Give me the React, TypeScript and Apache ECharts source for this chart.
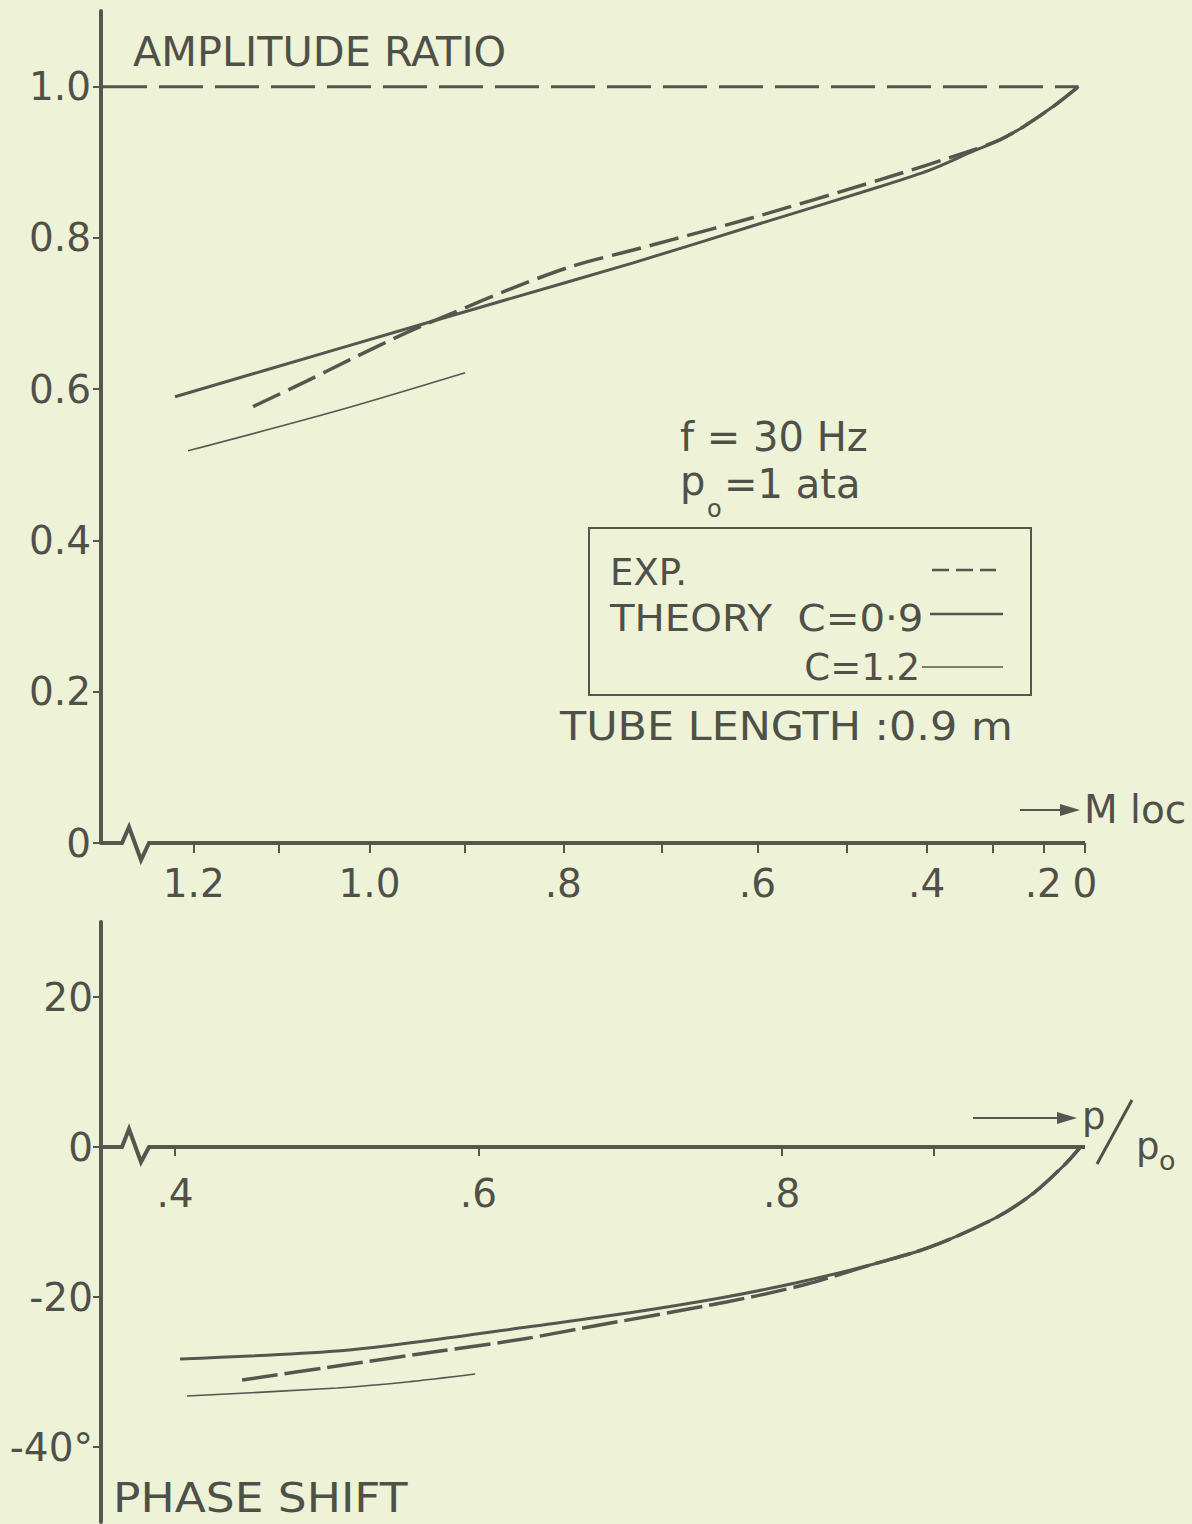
import React, { useEffect, useRef } from "react";
import * as echarts from "echarts";

const BG = "#eef2d7";
const INK = "#4f5149";
const LINE = "#55574f";
const FONT = "'DejaVu Sans', 'Noto Sans', sans-serif";

// ---- top panel: amplitude ratio, plotted on the p/p0 scale (axis labelled in M loc)
const ampRefX = [0.3525, 0.9957];
const ampRefY = [1.0, 1.0];
const ampExpX = [0.4515, 0.4871, 0.5154, 0.553, 0.5834, 0.623, 0.6625, 0.7021, 0.7285, 0.7813, 0.865, 0.9244, 0.9442, 0.9594, 0.9792, 0.9957];
const ampExpY = [0.577, 0.611, 0.639, 0.675, 0.701, 0.734, 0.763, 0.784, 0.798, 0.827, 0.877, 0.915, 0.93, 0.947, 0.974, 1.0];
const ampC09X = [0.4, 0.5069, 0.6144, 0.7021, 0.7859, 0.865, 0.898, 0.9244, 0.9442, 0.9594, 0.9792, 0.9957];
const ampC09Y = [0.59, 0.653, 0.716, 0.767, 0.819, 0.868, 0.89, 0.913, 0.93, 0.947, 0.974, 1.0];
const ampC12X = [0.4086, 0.5069, 0.5913];
const ampC12Y = [0.5185, 0.5714, 0.6217];

// ---- bottom panel: phase shift (degrees) vs p/p0
const phExpX = [0.4442, 0.5069, 0.5748, 0.6296, 0.6691, 0.7635, 0.8143, 0.8584, 0.898, 0.9409, 0.9653, 0.9864, 0.997];
const phExpY = [-31.07, -29.2, -27.2, -25.6, -24.13, -20.67, -18.4, -15.73, -13.33, -9.47, -6.27, -2.4, 0];
const phC09X = [0.4033, 0.5069, 0.5748, 0.6322, 0.6988, 0.7595, 0.809, 0.8584, 0.898, 0.9409, 0.9653, 0.9864, 0.997];
const phC09Y = [-28.27, -27.2, -25.6, -24.0, -22.13, -20.13, -18.13, -15.73, -13.33, -9.47, -6.27, -2.4, 0];
const phC12X = [0.4079, 0.5069, 0.553, 0.5979];
const phC12Y = [-33.2, -32.13, -31.33, -30.27];

// ---- ticks
const ampTicks = [0, 0.2, 0.4, 0.6, 0.8, 1.0];
const ampTickLabels = ["0", "0.2", "0.4", "0.6", "0.8", "1.0"];
const machTicks = [1.2, 1.1, 1.0, 0.9, 0.8, 0.7, 0.6, 0.5, 0.4, 0.3, 0.2, 0];
const machLabelValues = [1.2, 1.0, 0.8, 0.6, 0.4, 0.2, 0];
const machLabels = ["1.2", "1.0", ".8", ".6", ".4", ".2", "0"];
const phaseTicks = [20, 0, -20, -40];
const phaseTickLabels = ["20", "0", "-20", "-40°"];
const pTicks = [0.4, 0.6, 0.8, 0.9];
const pLabelValues = [0.4, 0.6, 0.8];
const pLabels = [".4", ".6", ".8"];

const X_MIN = 0.3512;
const X_MAX = 1.0;
const AMP_MIN = 0;
const AMP_MAX = 1.1;
const PH_MIN = -50;
const PH_MAX = 30;

const GRID_LEFT = 101;
const GRID_W = 984;
const TOP_GRID = { top: 11, height: 832 };
const BOT_GRID = { top: 922, height: 600 };

// isentropic relation used by the secondary (M loc) scale of the top axis
const pFromM = (m: number) => Math.pow(1 + 0.2 * m * m, -3.5);

const pairs = (xs: number[], ys: number[]) => xs.map((x, i) => [x, ys[i]]);
const lookup = (vals: number[], labels: string[]) => (v: number) => {
  for (let i = 0; i < vals.length; i++) if (Math.abs(vals[i] - v) < 1e-6) return labels[i];
  return "";
};

export default function App() {
  const ref = useRef<HTMLDivElement>(null);
  useEffect(() => {
    document.body.style.margin = "0";
    const chart = echarts.init(ref.current!, null, { renderer: "svg" });
    const machP = machLabelValues.map(pFromM);
    const axisLbl = (extra: any) => ({
      fontSize: 39,
      fontFamily: FONT,
      color: INK,
      ...extra,
    });
    // bottom x-axis sits at phase = 0
    const botOffset = -BOT_GRID.height * (0 - PH_MIN) / (PH_MAX - PH_MIN);
    const line = (name: string, xi: number, xs: number[], ys: number[], width: number, type: any, smooth: number) => ({
      name,
      type: "line",
      xAxisIndex: xi,
      yAxisIndex: xi,
      data: pairs(xs, ys),
      symbol: "none",
      smooth,
      lineStyle: { color: LINE, width, type },
    });
    const option: any = {
      animation: false,
      backgroundColor: BG,
      textStyle: { fontFamily: FONT },
      grid: [
        { left: GRID_LEFT, width: GRID_W, ...TOP_GRID, outerBoundsMode: "none", containLabel: false },
        { left: GRID_LEFT, width: GRID_W, ...BOT_GRID, outerBoundsMode: "none", containLabel: false },
      ],
      xAxis: [
        {
          type: "value",
          gridIndex: 0,
          min: X_MIN,
          max: X_MAX,
          position: "bottom",
          axisLine: { show: false, onZero: false },
          axisTick: { show: true, inside: false, length: 10, customValues: machTicks.map(pFromM), lineStyle: { color: LINE, width: 2 } },
          axisLabel: axisLbl({ customValues: machP, margin: 21, formatter: lookup(machP, machLabels) }),
          splitLine: { show: false },
        },
        {
          type: "value",
          gridIndex: 1,
          min: X_MIN,
          max: X_MAX,
          position: "bottom",
          offset: botOffset,
          axisLine: { show: false, onZero: false },
          axisTick: { show: true, inside: false, length: 9, customValues: pTicks, lineStyle: { color: LINE, width: 2 } },
          axisLabel: axisLbl({ customValues: pLabelValues, margin: 27, formatter: lookup(pLabelValues, pLabels) }),
          splitLine: { show: false },
        },
      ],
      yAxis: [
        {
          type: "value",
          gridIndex: 0,
          min: AMP_MIN,
          max: AMP_MAX,
          axisLine: { show: true, onZero: false, lineStyle: { color: LINE, width: 4 } },
          axisTick: { show: true, inside: false, length: 8, customValues: ampTicks, lineStyle: { color: LINE, width: 2 } },
          axisLabel: axisLbl({ customValues: ampTicks, margin: 10, formatter: lookup(ampTicks, ampTickLabels) }),
          splitLine: { show: false },
        },
        {
          type: "value",
          gridIndex: 1,
          min: PH_MIN,
          max: PH_MAX,
          axisLine: { show: true, onZero: false, lineStyle: { color: LINE, width: 4 } },
          axisTick: { show: true, inside: false, length: 8, customValues: phaseTicks, lineStyle: { color: LINE, width: 2 } },
          axisLabel: axisLbl({ customValues: phaseTicks, margin: 8, formatter: lookup(phaseTicks, phaseTickLabels) }),
          splitLine: { show: false },
        },
      ],
      series: [
        line("ref 1.0", 0, ampRefX, ampRefY, 3, [44, 12], 0),
        line("EXP.", 0, ampExpX, ampExpY, 3.5, [30, 9], 0.3),
        line("THEORY C=0.9", 0, ampC09X, ampC09Y, 3, "solid", 0.3),
        line("C=1.2", 0, ampC12X, ampC12Y, 1.6, "solid", 0.3),
        line("EXP. phase", 1, phExpX, phExpY, 3.5, [36, 7], 0.3),
        line("THEORY C=0.9 phase", 1, phC09X, phC09Y, 3, "solid", 0.3),
        line("C=1.2 phase", 1, phC12X, phC12Y, 1.6, "solid", 0.3),
      ],
    };
    chart.setOption(option);

    const topStart = chart.convertToPixel({ gridIndex: 0 } as any, [X_MIN, 0]);
    const topEnd = chart.convertToPixel({ gridIndex: 0 } as any, [X_MAX, 0]);
    const botStart = chart.convertToPixel({ gridIndex: 1 } as any, [X_MIN, 0]);
    const botEnd = chart.convertToPixel({ gridIndex: 1 } as any, [X_MAX, 0]);

    // x-axis lines with the broken-scale zigzag next to the y-axis
    const zigAxis = (start: number[], end: number[], peak: number, trough: number) => {
      const [x, y] = start;
      return {
        type: "polyline",
        shape: {
          points: [
            [x, y],
            [x + 21, y],
            [x + 28, y - peak],
            [x + 40, y + trough],
            [x + 48, y],
            [end[0], y],
          ],
        },
        style: { stroke: LINE, lineWidth: 4, fill: "none", lineJoin: "miter" },
      };
    };
    const txt = (x: number, y: number, text: string, size: number, align = "left", sx = 1) => ({
      type: "text",
      x,
      y,
      scaleX: sx,
      style: { text, fill: INK, fontSize: size, fontFamily: FONT, align, verticalAlign: "middle" },
    });
    const arrow = (x0: number, x1: number, y: number) => [
      { type: "line", shape: { x1: x0, y1: y, x2: x1 - 16, y2: y }, style: { stroke: LINE, lineWidth: 2 } },
      { type: "polygon", shape: { points: [[x1 - 20, y - 6], [x1, y], [x1 - 20, y + 6]] }, style: { fill: LINE } },
    ];

    chart.setOption({
      graphic: [
        zigAxis(topStart, topEnd, 16, 17),
        zigAxis(botStart, botEnd, 18, 15),
        txt(133, 52, "AMPLITUDE RATIO", 40, "left", 1.035),
        txt(113, 1498, "PHASE SHIFT", 41, "left", 1.11),
        ...arrow(1020, 1080, 810),
        txt(1084, 809, "M loc", 39),
        ...arrow(973, 1077, 1118),
        txt(1082, 1116, "p", 37),
        { type: "line", shape: { x1: 1097, y1: 1164, x2: 1132, y2: 1100 }, style: { stroke: INK, lineWidth: 3 } },
        txt(1136, 1146, "p", 37),
        txt(1159, 1160, "o", 27),
        txt(680, 437, "f = 30 Hz", 40),
        txt(680, 481, "p", 40),
        txt(707, 509, "o", 24),
        txt(724, 484, "=1 ata", 40),
        {
          type: "rect",
          shape: { x: 589, y: 528, width: 442, height: 167 },
          style: { fill: "none", stroke: LINE, lineWidth: 2 },
        },
        txt(610, 572, "EXP.", 37),
        { type: "line", shape: { x1: 932, y1: 570, x2: 996, y2: 570 }, style: { stroke: LINE, lineWidth: 2.5, lineDash: [17, 7] } },
        txt(610, 618, "THEORY  C=0·9", 38, "left", 1.06),
        { type: "line", shape: { x1: 930, y1: 614, x2: 1003, y2: 614 }, style: { stroke: LINE, lineWidth: 2.5 } },
        txt(920, 667, "C=1.2", 37, "right"),
        { type: "line", shape: { x1: 922, y1: 667, x2: 1003, y2: 667 }, style: { stroke: LINE, lineWidth: 1.5 } },
        txt(560, 727, "TUBE LENGTH :0.9 m", 39, "left", 1.1),
      ],
    });

    return () => chart.dispose();
  }, []);
  return (
    <div
      ref={ref}
      style={{ position: "absolute", left: 0, top: 0, width: 1192, height: 1524, background: BG }}
    />
  );
}
